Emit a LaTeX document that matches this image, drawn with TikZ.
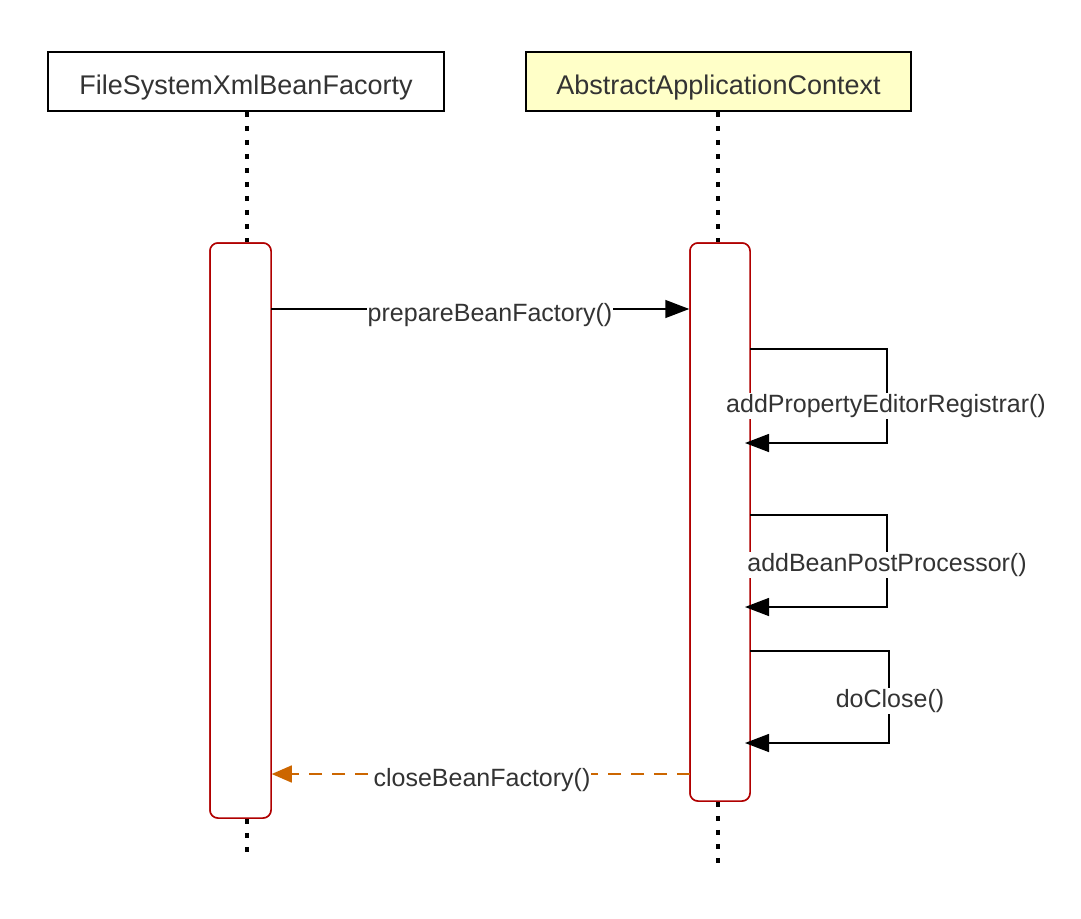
\documentclass[tikz,border=0pt]{standalone}
\usepackage{fontspec}
\setmainfont{Liberation Sans}
\usetikzlibrary{arrows.meta}
\definecolor{kop}{HTML}{FFFFC8}
\definecolor{balk}{HTML}{B00000}
\definecolor{terug}{HTML}{CC6600}
\definecolor{tekst}{HTML}{333333}
\tikzstyle{object}=[rectangle,
                    draw=black,
                    line width=1.8pt,
                    text centered,
                    text=tekst,
                    inner sep=0pt,
                    text height=26pt,
                    text depth=0pt,
                    minimum height=59pt,
                    font=\fontsize{27}{30}\selectfont
                   ]
\tikzstyle{activation}=[rectangle,
                        draw=balk,
                        line width=1.5pt,
                        rounded corners=8pt,
                        fill=white,
                        inner sep=0pt
                       ]
\tikzstyle{lifeline}=[line width=4pt, dash pattern=on 5pt off 9pt]
\tikzstyle{call}=[line width=1.5pt, -{Triangle[length=24pt,width=18pt]}]
\tikzstyle{reply}=[line width=1.5pt, draw=terug, dash pattern=on 13pt off 10pt,
                   -{Triangle[length=20pt,width=17pt]}]
\tikzstyle{label}=[fill=white, inner sep=1pt, text=tekst]

\begin{document}
\begin{tikzpicture}[x=1pt, y=-1pt, font=\fontsize{25}{30}\selectfont]
  \useasboundingbox (0,0) rectangle (1081,918);

  \node at (246, 81.5) (fsx) [object, minimum width=396pt] {FileSystemXmlBeanFacorty};
  \node at (718.5, 81.5) (aac) [object, minimum width=385pt, fill=kop] {AbstractApplicationContext};

  \coordinate (fsxend) at (247, 858);
  \coordinate (aacend) at (718, 868);
  \node at (240.5, 530.5) (fsxbar) [activation, minimum width=61pt, minimum height=575pt] {};
  \node at (720, 522) (aacbar) [activation, minimum width=60pt, minimum height=558pt] {};

  \draw[lifeline] (fsx.south -| fsxend) -- (fsxbar.north -| fsxend);
  \draw[lifeline] (fsxbar.south -| fsxend) -- (fsxend);
  \draw[lifeline] (aac.south -| aacend) -- (aacbar.north -| aacend);
  \draw[lifeline] (aacbar.south -| aacend) -- (aacend);
  \node at (240.5, 530.5) [activation, minimum width=61pt, minimum height=575pt] {};
  \node at (720, 522) [activation, minimum width=60pt, minimum height=558pt] {};

  % prepareBeanFactory()
  \coordinate (m1) at (271, 309);
  \draw[call] (m1) -- (m1 -| aacbar.west);
  \node at (490, 315) (l1) [label] {prepareBeanFactory()};

  % self calls
  \coordinate (s1a) at (750, 349);
  \coordinate (s1b) at (887, 443);
  \draw[call] (s1a) -| (s1b) -- (s1b -| 745,0);
  \node at (886, 406) (l2) [label] {addPropertyEditorRegistrar()};

  \coordinate (s2a) at (750, 515);
  \coordinate (s2b) at (887, 607);
  \draw[call] (s2a) -| (s2b) -- (s2b -| 745,0);
  \node at (887, 565) (l3) [label] {addBeanPostProcessor()};

  \coordinate (s3a) at (750, 651);
  \coordinate (s3b) at (889, 743);
  \draw[call] (s3a) -| (s3b) -- (s3b -| 745,0);
  \node at (890, 701) (l4) [label] {doClose()};

  % closeBeanFactory()
  \coordinate (m5) at (690, 774);
  \draw[reply] (m5) -- (m5 -| fsxbar.east);
  \node at (482, 780) (l5) [label] {closeBeanFactory()};
\end{tikzpicture}
\end{document}
